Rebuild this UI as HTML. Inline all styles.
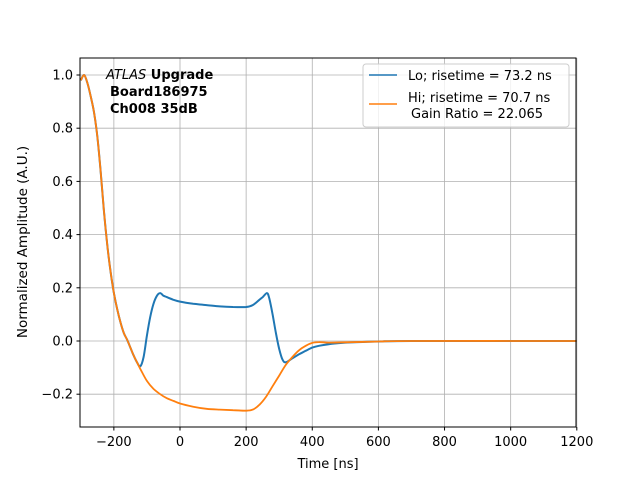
<!DOCTYPE html>
<html><head><meta charset="utf-8"><style>
body{margin:0;background:#fff}
svg{font-family:"DejaVu Sans","Liberation Sans",sans-serif}
</style></head><body>
<svg id="chart" width="640" height="480" viewBox="0 0 640 480">
<rect width="640" height="480" fill="#fff"/>
<g id="grid"></g>
<g id="series"></g>
<rect x="80" y="58" width="496" height="369" fill="none" stroke="#000" stroke-width="1"/>
<g id="axes"></g>
<text x="328" y="468" font-size="13" text-anchor="middle">Time [ns]</text>
<text transform="translate(27,242) rotate(-90)" font-size="13.5" text-anchor="middle">Normalized Amplitude (A.U.)</text>
<g font-size="13" font-weight="bold">
<text x="106" y="79"><tspan font-style="italic" font-weight="normal">ATLAS</tspan> Upgrade</text>
<text x="110" y="96">Board186975</text>
<text x="110" y="113">Ch008 35dB</text>
</g>
<g>
<rect x="363" y="64" width="206" height="63" rx="3" fill="#fff" fill-opacity="0.8" stroke="#ccc"/>
<g>
<line x1="369" y1="75" x2="397" y2="75" stroke="#1f77b4" stroke-width="1.5"/>
<text x="408" y="80" font-size="13">Lo; risetime = 73.2 ns</text></g>
<g>
<line x1="369" y1="104" x2="397" y2="104" stroke="#ff7f0e" stroke-width="1.5"/>
<text x="408" y="102" font-size="13">Hi; risetime = 70.7 ns</text>
<text x="411" y="118" font-size="13">Gain Ratio = 22.065</text></g>
</g>
</svg>
<script>
const xTicks=[-200,0,200,400,600,800,1000,1200];
const yTicks=[-0.2,0.0,0.2,0.4,0.6,0.8,1.0];
const hiT=[-300,-290,-280,-270,-260,-250,-240,-230,-220,-210,-200,-190,-180,-170,-160,-150,-140,-130,-120,-100,-80,-60,-40,-20,0,40,80,120,160,200,220,240,260,280,300,320,340,360,380,400,420,450,500,600,700,1200];
const hiV=[0.98,1.0,0.97,0.92,0.86,0.77,0.64,0.49,0.36,0.26,0.18,0.12,0.07,0.03,0.005,-0.025,-0.055,-0.08,-0.105,-0.15,-0.18,-0.2,-0.215,-0.225,-0.235,-0.247,-0.255,-0.258,-0.26,-0.262,-0.258,-0.24,-0.21,-0.17,-0.13,-0.09,-0.06,-0.035,-0.018,-0.007,-0.004,-0.006,-0.005,-0.002,0,0];
const loT=[-300,-290,-280,-270,-260,-250,-240,-230,-220,-210,-200,-190,-180,-170,-160,-150,-140,-130,-120,-110,-100,-90,-80,-70,-60,-50,-40,-20,0,40,80,120,160,200,220,240,250,263,270,280,290,300,310,320,340,360,380,400,420,450,500,600,700,1200];
const loV=[0.98,1.0,0.97,0.92,0.86,0.77,0.64,0.49,0.36,0.26,0.18,0.12,0.07,0.03,0.005,-0.025,-0.055,-0.08,-0.095,-0.06,0.02,0.09,0.14,0.17,0.18,0.17,0.165,0.155,0.148,0.14,0.135,0.13,0.128,0.128,0.135,0.155,0.165,0.18,0.16,0.1,0.03,-0.03,-0.07,-0.08,-0.065,-0.05,-0.037,-0.025,-0.018,-0.012,-0.006,-0.002,0,0];
const X=t=>80.8+(t+300)*0.33067;
const Y=v=>341-v*266;
const NS='http://www.w3.org/2000/svg';
const grid=document.getElementById('grid'),axes=document.getElementById('axes'),ser=document.getElementById('series');
function mk(tag,attrs,parent){const e=document.createElementNS(NS,tag);for(const k in attrs)e.setAttribute(k,attrs[k]);parent.appendChild(e);return e;}
xTicks.forEach(t=>{const x=X(t);
const g=mk('line',{x1:x,x2:x,y1:58,y2:427,stroke:'#b0b0b0','stroke-width':0.8},grid);


const tk=mk('line',{x1:x,x2:x,y1:427,y2:430.5,stroke:'#000'},axes);


const l=mk('text',{x:x,y:446,'font-size':13,'text-anchor':'middle'},axes);
l.textContent=(t<0?'\u2212'+(-t):t);

});
yTicks.forEach(v=>{const y=Y(v);
const g=mk('line',{x1:80,x2:576,y1:y,y2:y,stroke:'#b0b0b0','stroke-width':0.8},grid);


const tk=mk('line',{x1:76.5,x2:80,y1:y,y2:y,stroke:'#000'},axes);


const l=mk('text',{x:73,y:y+4.5,'font-size':13,'text-anchor':'end'},axes);
l.textContent=(v<0?'\u2212':'')+Math.abs(v).toFixed(1);

});
function line(T,V,c,w,name){
const P=T.map((t,i)=>[X(t),Y(V[i])]);
let d='M'+P[0][0].toFixed(1)+','+P[0][1].toFixed(1);
for(let i=0;i<P.length-1;i++){const p0=P[Math.max(0,i-1)],p1=P[i],p2=P[i+1],p3=P[Math.min(P.length-1,i+2)];
const c1=[p1[0]+(p2[0]-p0[0])/6,p1[1]+(p2[1]-p0[1])/6],c2=[p2[0]-(p3[0]-p1[0])/6,p2[1]-(p3[1]-p1[1])/6];
d+='C'+c1.map(n=>n.toFixed(1)).join(',')+' '+c2.map(n=>n.toFixed(1)).join(',')+' '+p2.map(n=>n.toFixed(1)).join(',');}
const p=mk('path',{d:d,fill:'none',stroke:c,'stroke-width':w,'stroke-linejoin':'round'},ser);

}
line(loT,loV,'#1f77b4',2,'lo-series');
line(hiT,hiV,'#ff7f0e',1.8,'hi-series');
</script>
</body></html>
